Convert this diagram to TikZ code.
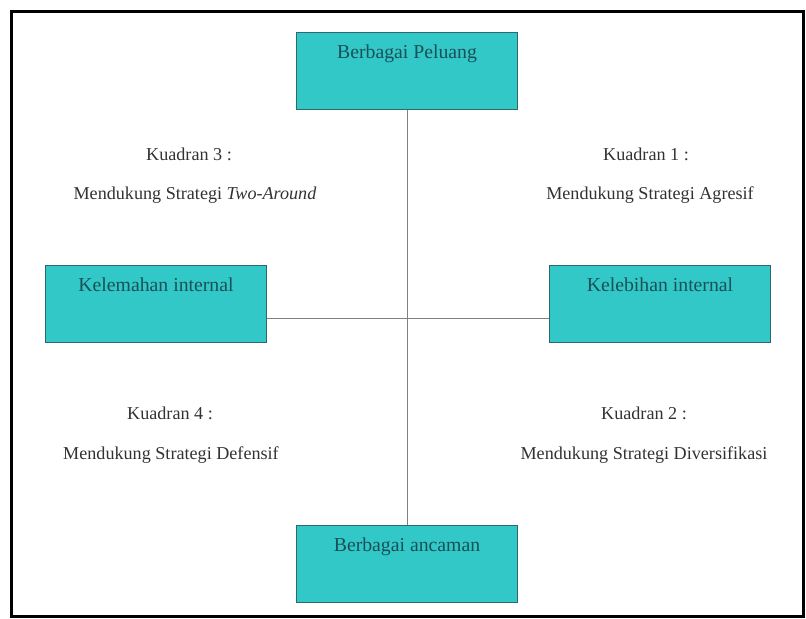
\documentclass[tikz,border=0pt]{standalone}
\usepackage{fontspec}
\setmainfont{Liberation Serif}
\usetikzlibrary{positioning}

\definecolor{tosca}{RGB}{51,200,200}
\definecolor{toscagaris}{RGB}{45,105,110}
\definecolor{toscateks}{RGB}{25,80,88}
\definecolor{abugaris}{RGB}{128,128,128}
\definecolor{teksabu}{RGB}{50,50,50}

\begin{document}
\begin{tikzpicture}[x=0.75pt, y=-0.75pt,
        kotak/.style={draw=toscagaris, fill=tosca, line width=0.75pt, inner sep=0pt,
            minimum width=165.75pt, text height=19.5pt, text depth=38.25pt,
            text=toscateks, font=\fontsize{14.8}{18}\selectfont},
        kuadran/.style={anchor=base, inner sep=0pt, text=teksabu,
            font=\fontsize{13.6}{16}\selectfont}]
        \useasboundingbox (0,0) rectangle (806,618);

        % kotak faktor
        \node[kotak] (peluang) at (407,71) {Berbagai Peluang};
        \node[kotak] (kelemahan) at (156,304) {Kelemahan internal};
        \node[kotak] (kelebihan) at (660,304) {Kelebihan internal};
        \node[kotak] (ancaman) at (407,564) {Berbagai ancaman};
        \coordinate (pusat) at (407,318);

        % sumbu
        \draw[abugaris, line width=0.75pt] (peluang.south) -- (ancaman.north);
        \draw[abugaris, line width=0.75pt] (kelemahan.east |- pusat) -- (kelebihan.west |- pusat);

        % kuadran
        \node[kuadran] (k3) at (189,160) {Kuadran 3 :};
        \node[kuadran] (s3) at (195,199) {Mendukung Strategi \textit{Two-Around}};
        \node[kuadran] (k1) at (646,160) {Kuadran 1 :};
        \node[kuadran] (s1) at (650,199) {Mendukung Strategi Agresif};
        \node[kuadran] (k4) at (170,419) {Kuadran 4 :};
        \node[kuadran] (s4) at (171,459) {Mendukung Strategi Defensif};
        \node[kuadran] (k2) at (644,419) {Kuadran 2 :};
        \node[kuadran] (s2) at (644,459) {Mendukung Strategi Diversifikasi};

        \draw[black, line width=2.25pt] (11,11) rectangle (803,616);
    \end{tikzpicture}
\end{document}
